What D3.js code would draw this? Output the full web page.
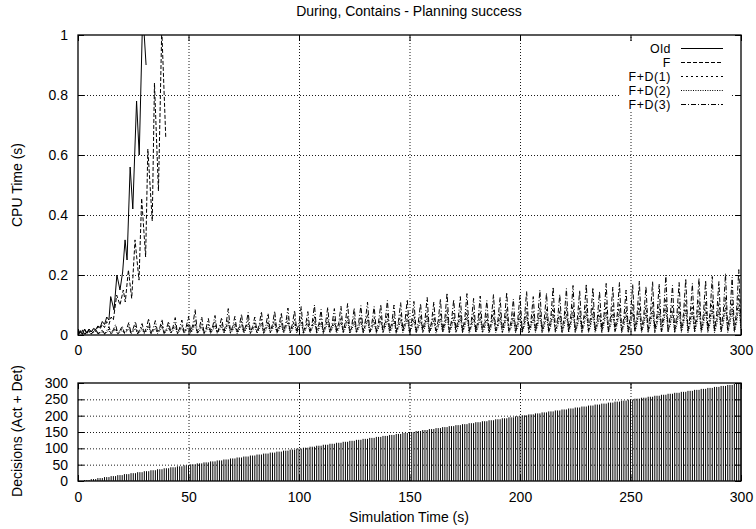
<!DOCTYPE html>
<html>
<head>
<meta charset="utf-8">
<script src="https://cdn.jsdelivr.net/npm/d3@7"></script>
<style>
  body { margin: 0; background: #fff; }
  svg { display: block; font-family: "Liberation Sans", Arial, Helvetica, sans-serif; }
</style>
</head>
<body>
<svg id="chart" width="756" height="529"></svg>
<script>
// ---------------- data ----------------
const chartTitle = "During, Contains - Planning success";
const timeTicks = [0, 50, 100, 150, 200, 250, 300];
const cpuTicks = [0, 0.2, 0.4, 0.6, 0.8, 1];
const decisionTicks = [0, 50, 100, 150, 200, 250, 300];
const seriesNames = ["Old", "F", "F+D(1)", "F+D(2)", "F+D(3)"];

// [simulation time (s), CPU time (s)]
const oldCpu = [[0,0],[1,0.015],[2,0.002],[3,0.02],[4,0.006],[5,0.02],[6,0.01],[7,0.022],[8,0.018],
  [9,0.03],[10,0.025],[11,0.045],[12,0.035],[13,0.06],[14,0.05],[14.8,0.128],[16.3,0.083],[17.6,0.2],
  [19,0.15],[20.2,0.21],[21.3,0.317],[22.2,0.25],[23.6,0.56],[24.8,0.42],[26.5,0.78],[27.7,0.6],
  [29.3,1.08],[30.8,0.9]];
const fCpu = [[0,0],[1,0.012],[2,0.003],[3,0.018],[4,0.005],[5,0.02],[6,0.01],[7,0.02],[8,0.012],
  [9,0.028],[10,0.02],[11,0.035],[12,0.025],[13,0.045],[14,0.035],[15,0.06],[16,0.05],[17.5,0.133],
  [19,0.1],[20.5,0.15],[21.4,0.11],[22.8,0.217],[24.3,0.122],[25.8,0.317],[27.6,0.183],[28.8,0.456],
  [30.6,0.26],[31.6,0.62],[33.6,0.38],[34.6,0.84],[36.4,0.48],[37.9,1.02],[39.7,0.66]];

// CPU time in ms, one sample per simulated second (t = 0 .. 300)
const fd1CpuMs = [
  4,10,16, 3,8,14, 5,11,18, 4,9,15, 3,12,20, 5,14,24, 4,13,22, 6,15,28, 5,16,30, 4,14,26,
  6,18,34, 5,16,30, 7,19,36, 5,17,32, 6,20,38, 5,18,33, 7,21,40, 8,24,48, 6,19,38, 5,18,36,
  7,22,44, 6,20,40, 8,25,52, 6,21,42, 7,23,46, 8,24,50, 6,20,41, 7,25,52, 6,22,47, 8,26,54,
  7,23,49, 9,28,58, 7,25,53, 8,29,60, 6,24,51, 9,30,62, 7,26,55, 8,28,59, 7,27,57, 9,29,61,
  8,31,66, 7,27,58, 9,30,63, 8,33,70, 7,28,60, 9,31,65, 8,34,72, 10,29,63, 8,32,68, 9,35,74,
  8,33,70, 10,31,66, 9,36,78, 8,32,69, 10,34,75, 9,38,86, 8,33,73, 10,36,79, 9,37,84, 11,34,76,
  9,35,80, 10,32,72, 8,37,83, 10,35,78, 9,39,88, 11,34,75, 9,36,81, 10,40,90, 8,35,79, 11,41,92,
  10,38,86, 9,43,98, 11,37,84, 10,42,95, 12,44,101, 9,40,91, 11,46,104, 10,43,97, 12,39,89, 10,47,106,
  11,43,98, 9,48,108, 12,41,93, 10,45,103, 11,49,111, 12,44,100, 10,48,109, 11,46,105, 9,52,122, 12,45,102,
  10,47,108, 12,50,115, 11,46,106, 10,51,117, 12,49,112, 11,52,120, 13,48,110, 10,54,126, 12,51,118, 11,56,134,
  22];
const fd2CpuMs = [
  3,7,12, 2,6,10, 4,8,13, 3,7,11, 2,9,15, 4,10,18, 3,9,16, 5,11,20, 4,12,22, 3,10,19,
  5,13,25, 4,12,22, 5,14,26, 4,12,23, 6,15,28, 4,13,24, 5,15,29, 6,18,36, 5,14,27, 4,13,26,
  5,16,32, 6,15,29, 5,19,38, 6,15,30, 5,17,34, 6,18,36, 5,15,30, 6,18,38, 5,16,34, 7,19,39,
  5,17,35, 6,21,42, 7,18,38, 6,21,44, 5,17,37, 7,22,45, 6,19,40, 5,20,43, 7,20,41, 6,21,44,
  7,23,48, 6,20,42, 8,22,46, 6,24,51, 7,20,43, 6,23,47, 8,25,52, 7,21,46, 6,23,49, 8,26,54,
  7,24,51, 6,22,48, 8,26,57, 7,23,50, 6,25,55, 8,28,62, 7,24,53, 8,26,58, 7,27,61, 6,25,55,
  8,26,58, 7,23,52, 6,27,60, 8,25,57, 7,28,64, 9,24,55, 7,26,59, 8,29,66, 6,25,57, 9,30,67,
  7,28,63, 8,31,71, 9,27,61, 7,30,69, 8,32,74, 9,29,66, 7,33,76, 8,31,71, 9,28,65, 7,34,77,
  8,31,71, 9,35,79, 7,30,68, 8,33,75, 10,36,81, 8,32,73, 9,35,79, 7,34,76, 8,38,89, 10,33,74,
  8,34,78, 9,36,84, 7,34,77, 10,37,85, 8,35,81, 9,38,87, 7,35,80, 10,39,92, 8,37,86, 9,41,97,
  16];
const fd3CpuMs = [
  2,8,18, 4,10,15, 3,12,20, 5,9,17, 4,14,28, 6,18,35, 5,15,30, 7,20,42, 6,22,45, 5,19,38,
  8,25,55, 6,22,48, 9,24,52, 7,21,45, 8,27,58, 6,23,50, 9,28,62, 10,35,85, 7,26,60, 8,24,55,
  9,30,65, 7,27,58, 11,36,88, 8,29,62, 10,31,70, 9,33,75, 8,28,60, 11,34,78, 9,32,72, 12,35,80,
  10,33,74, 12,38,90, 9,36,82, 13,40,95, 10,34,78, 12,42,100, 11,37,85, 10,39,92, 12,38,88, 13,41,96,
  11,44,105, 12,38,90, 10,42,98, 14,46,110, 11,40,95, 13,43,102, 12,48,115, 14,41,100, 11,45,108, 15,49,118,
  12,46,112, 14,43,105, 13,51,125, 11,45,110, 15,48,120, 13,55,140, 12,47,118, 16,50,128, 13,53,138, 14,48,122,
  12,50,130, 15,45,115, 13,52,135, 14,49,125, 16,55,142, 12,47,120, 15,51,132, 13,56,145, 16,50,128, 14,58,150,
  15,54,140, 13,62,160, 16,52,135, 14,60,155, 17,64,165, 13,57,148, 16,66,170, 15,61,158, 14,56,145, 17,67,172,
  15,62,160, 18,68,175, 14,58,150, 16,65,168, 17,70,180, 15,63,162, 18,69,178, 16,66,170, 14,76,200, 17,64,165,
  15,68,175, 18,72,188, 16,66,172, 17,73,190, 15,70,182, 18,75,195, 16,69,178, 19,78,205, 17,74,192, 16,82,218,
  30];

// cumulative decisions (actions + detections), one value per simulated second (t = 0 .. 300)
const decisions = [
  0,0,0,3,3,3,6,6,6,9,9,9,12,12,12,15,15,15,18,18,18,21,21,21,24,24,24,27,27,27,
  30,30,30,33,33,33,36,36,36,39,39,39,42,42,42,45,45,45,48,48,48,51,51,51,54,54,54,57,57,57,
  60,60,60,63,63,63,66,66,66,69,69,69,72,72,72,75,75,75,78,78,78,81,81,81,84,84,84,87,87,87,
  90,90,90,93,93,93,96,96,96,99,99,99,102,102,102,105,105,105,108,108,108,111,111,111,114,114,114,117,117,117,
  120,120,120,123,123,123,126,126,126,129,129,129,132,132,132,135,135,135,138,138,138,141,141,141,144,144,144,147,147,147,
  150,150,150,153,153,153,156,156,156,159,159,159,162,162,162,165,165,165,168,168,168,171,171,171,174,174,174,177,177,177,
  180,180,180,183,183,183,186,186,186,189,189,189,192,192,192,195,195,195,198,198,198,201,201,201,204,204,204,207,207,207,
  210,210,210,213,213,213,216,216,216,219,219,219,222,222,222,225,225,225,228,228,228,231,231,231,234,234,234,237,237,237,
  240,240,240,243,243,243,246,246,246,249,249,249,252,252,252,255,255,255,258,258,258,261,261,261,264,264,264,267,267,267,
  270,270,270,273,273,273,276,276,276,279,279,279,282,282,282,285,285,285,288,288,288,291,291,291,294,294,294,297,297,297,
  300];

// ---------------- layout ----------------
const svg = d3.select("#chart");
const plotLeft = 78, plotRight = 741;
const cpuTop = 35, cpuBottom = 335;
const decTop = 383, decBottom = 481;
const fontSize = 14;
const legendFontSize = 12.4;
const legendRow = 14;

const x = d3.scaleLinear().domain([0, 300]).range([plotLeft, plotRight]);
const yCpu = d3.scaleLinear().domain([0, 1]).range([cpuBottom, cpuTop]);
const yDec = d3.scaleLinear().domain([0, 300]).range([decBottom, decTop]);

const dashes = [null, "4,2", "2,3", "1,1.4", "5,2,1,2"];

function styleAxis(g) {
  g.attr("font-family", null).attr("font-size", fontSize);
  g.select(".domain").remove();
  g.selectAll(".tick line").attr("stroke", "#000");
  g.selectAll(".tick text").attr("fill", "#000");
}

// dotted grid at the inner ticks
function drawGrid(yScale, yTicks, top, bottom) {
  const h = bottom - top, w = plotRight - plotLeft;
  svg.append("g").attr("transform", `translate(0,${bottom})`)
    .call(d3.axisBottom(x).tickValues(timeTicks.slice(1, -1)).tickSize(-h).tickFormat(""))
    .call(styleAxis)
    .selectAll(".tick line").attr("stroke-dasharray", "1,2").attr("stroke-width", 0.9);
  svg.append("g").attr("transform", `translate(${plotLeft},0)`)
    .call(d3.axisLeft(yScale).tickValues(yTicks.slice(1, -1)).tickSize(-w).tickFormat(""))
    .call(styleAxis)
    .selectAll(".tick line").attr("stroke-dasharray", "1,2").attr("stroke-width", 0.9);
}

// inward ticks on all four sides, labels on bottom and left, plus the border
function drawTicks(yScale, yTicks, yFormat, top, bottom, xPad) {
  svg.append("g").attr("transform", `translate(0,${bottom})`)
    .call(d3.axisBottom(x).tickValues(timeTicks).tickSize(-6).tickSizeOuter(0).tickPadding(xPad))
    .call(styleAxis);
  svg.append("g").attr("transform", `translate(0,${top})`)
    .call(d3.axisTop(x).tickValues(timeTicks).tickSize(-6).tickSizeOuter(0).tickFormat(""))
    .call(styleAxis);
  svg.append("g").attr("transform", `translate(${plotLeft},0)`)
    .call(d3.axisLeft(yScale).tickValues(yTicks).tickSize(-6).tickSizeOuter(0).tickPadding(10).tickFormat(yFormat))
    .call(styleAxis);
  svg.append("g").attr("transform", `translate(${plotRight},0)`)
    .call(d3.axisRight(yScale).tickValues(yTicks).tickSize(-6).tickSizeOuter(0).tickFormat(""))
    .call(styleAxis);
  svg.append("rect")
    .attr("x", plotLeft).attr("y", top)
    .attr("width", plotRight - plotLeft).attr("height", bottom - top)
    .attr("fill", "none").attr("stroke", "#000").attr("stroke-width", 1.3);
}

// ---------------- CPU time panel ----------------
drawGrid(yCpu, cpuTicks, cpuTop, cpuBottom);

svg.append("clipPath").attr("id", "cpuClip")
  .append("rect").attr("x", plotLeft).attr("y", cpuTop)
  .attr("width", plotRight - plotLeft).attr("height", cpuBottom - cpuTop);

const pairLine = d3.line().x(d => x(d[0])).y(d => yCpu(d[1]));
const msLine = d3.line().x((d, i) => x(i)).y(d => yCpu(d / 1000));

const cpuLayer = svg.append("g").attr("clip-path", "url(#cpuClip)")
  .attr("fill", "none").attr("stroke", "#000").attr("stroke-width", 1);

const cpuPaths = [
  pairLine(oldCpu), pairLine(fCpu),
  msLine(fd1CpuMs), msLine(fd2CpuMs), msLine(fd3CpuMs)
];
cpuPaths.forEach((p, i) => {
  cpuLayer.append("path").attr("d", p).attr("stroke-dasharray", dashes[i]);
});

drawTicks(yCpu, cpuTicks, d3.format("~g"), cpuTop, cpuBottom, 10);

// legend
const legend = svg.append("g");
legend.append("rect").attr("x", 620).attr("y", 41).attr("width", 112).attr("height", 70).attr("fill", "#fff");
seriesNames.forEach((name, i) => {
  const ly = 48.5 + i * legendRow;
  legend.append("text").attr("x", 671).attr("y", ly).attr("dy", "0.35em")
    .attr("text-anchor", "end").attr("font-size", legendFontSize)
    .attr("letter-spacing", 0.6).text(name);
  legend.append("line").attr("x1", 681).attr("x2", 723).attr("y1", ly).attr("y2", ly)
    .attr("stroke", "#000").attr("stroke-width", 1).attr("stroke-dasharray", dashes[i]);
});

// ---------------- decisions panel ----------------
drawGrid(yDec, decisionTicks, decTop, decBottom);

svg.append("g").attr("stroke", "#000").attr("stroke-width", 1)
  .selectAll("line").data(decisions).join("line")
  .attr("x1", (d, i) => x(i)).attr("x2", (d, i) => x(i))
  .attr("y1", yDec(0)).attr("y2", d => yDec(d));

drawTicks(yDec, decisionTicks, d3.format("d"), decTop, decBottom, 11);

// ---------------- titles ----------------
svg.append("text").attr("x", 409).attr("y", 16).attr("text-anchor", "middle")
  .attr("font-size", fontSize).text(chartTitle);
svg.append("text").attr("x", 409).attr("y", 522).attr("text-anchor", "middle")
  .attr("font-size", fontSize).text("Simulation Time (s)");
svg.append("text").attr("transform", "translate(22,185) rotate(-90)").attr("text-anchor", "middle")
  .attr("font-size", fontSize).text("CPU Time (s)");
svg.append("text").attr("transform", "translate(22,431) rotate(-90)").attr("text-anchor", "middle")
  .attr("font-size", fontSize).text("Decisions (Act + Det)");
</script>
</body>
</html>
